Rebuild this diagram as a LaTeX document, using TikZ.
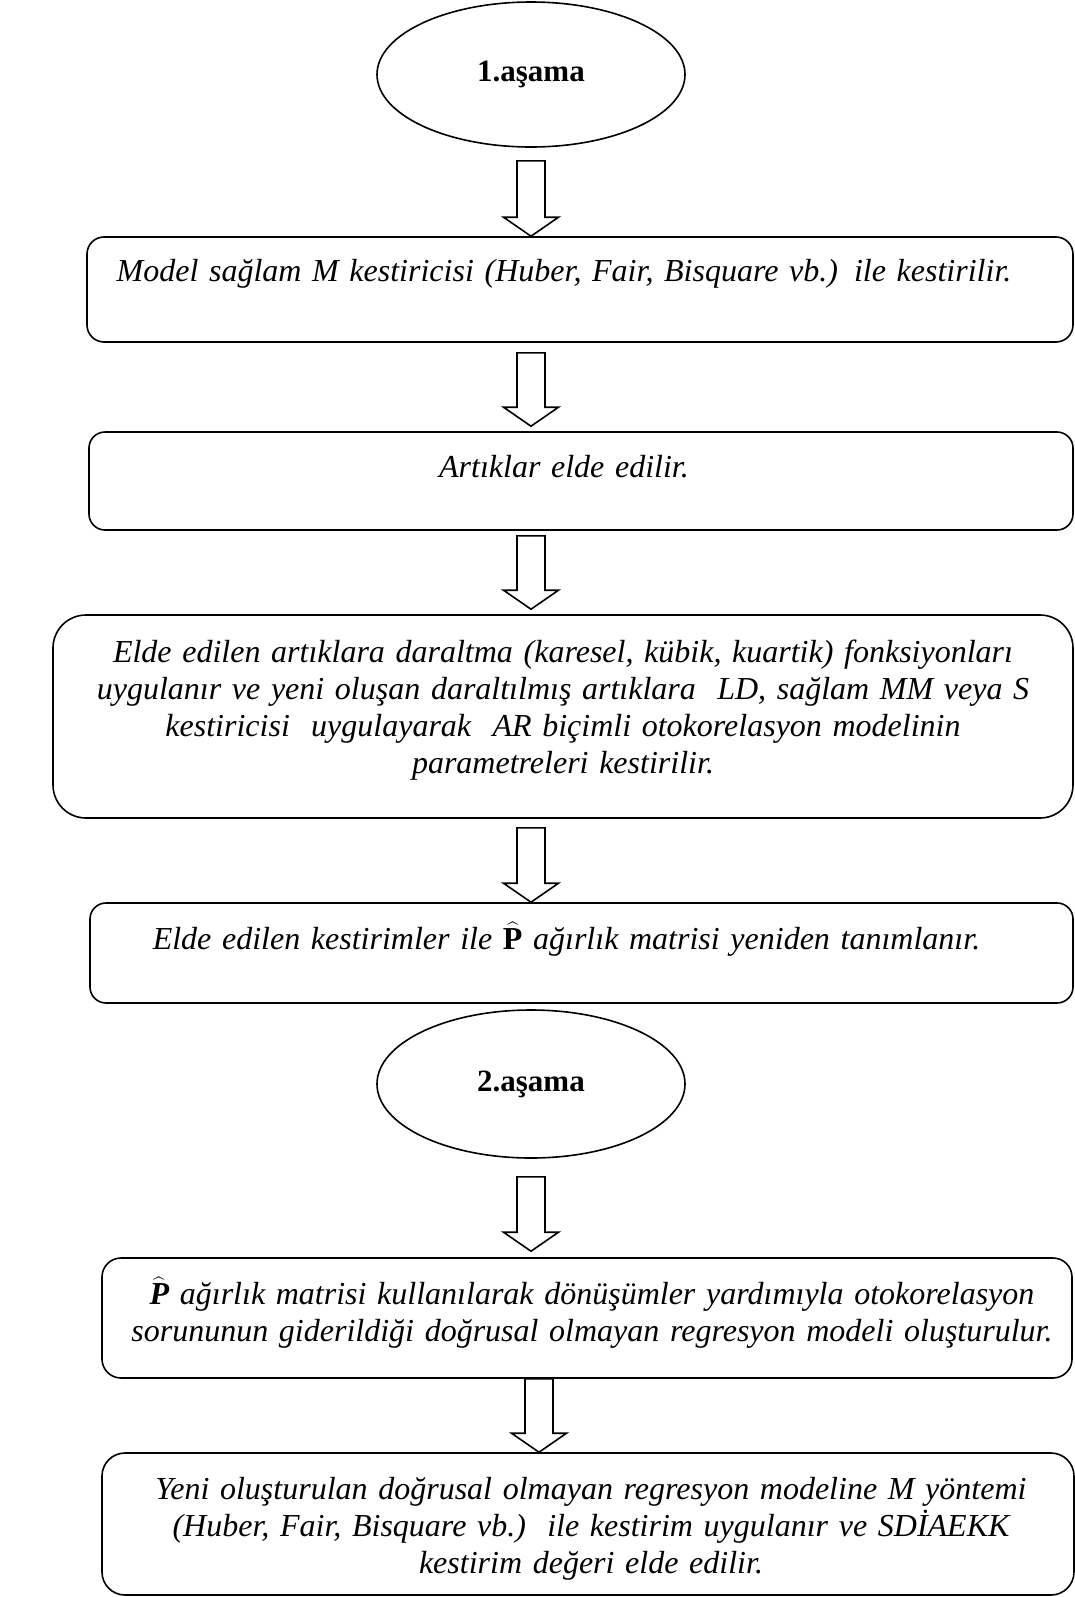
\documentclass[tikz,border=0pt]{standalone}
\usepackage{fontspec}
\setmainfont{Liberation Serif}
\definecolor{lineBlack}{HTML}{000000}
\usepackage{tikz}
\usetikzlibrary{calc, positioning, shapes.geometric}

\tikzset{
  stage/.style={ellipse, draw=lineBlack, line width=0.8pt, inner sep=0pt,
                minimum width=154pt, font=\fontsize{15.5}{18.5}\selectfont\bfseries},
  stepbox/.style={rectangle, draw=lineBlack, line width=0.8pt, inner sep=0pt},
  steptext/.style={anchor=base, align=center, inner sep=0pt, text width=490pt,
                   font=\fontsize{16}{18.5}\selectfont\itshape},
  hollow/.style={draw=lineBlack, line width=0.8pt, fill=white, line join=miter}
}

% hollow block arrow from top point #1 down to tip #2
\newcommand{\hollowarrow}[2]{%
  \draw[hollow] ($(#1)+(-14,0)$) -- ($(#2)+(-14,-19)$) -- ($(#2)+(-27.5,-19)$) -- (#2)
    -- ($(#2)+(27.5,-19)$) -- ($(#2)+(14,-19)$) -- ($(#1)+(14,0)$) -- cycle;}

\begin{document}
\begin{tikzpicture}[x=0.5pt, y=-0.5pt]
\useasboundingbox (0,0) rectangle (1075,1597);

% first stage
\node[stage, minimum height=72.5pt] (e1) at (531,74.5) {\raisebox{-1.5pt}{1.aşama}};

\node[stepbox, minimum width=493pt, minimum height=52.5pt, rounded corners=8.5pt] (b1) at (580,289.5) {};
\node[steptext] (t1) at ($(b1.north)+(-16,45)$)
  {Model sağlam M kestiricisi (Huber, Fair, Bisquare vb.) ile kestirilir.};

\node[stepbox, minimum width=492pt, minimum height=49pt, rounded corners=8pt] (b2) at (581,481) {};
\node[steptext] (t2) at ($(b2.north)+(-17,46)$) {Artıklar elde edilir.};

\node[stepbox, minimum width=510pt, minimum height=101.5pt, rounded corners=16.5pt] (b3) at (563,716.5) {};
\node[steptext] (t3) at ($(b3.north)+(0,48)$)
  {Elde edilen artıklara daraltma (karesel, kübik, kuartik) fonksiyonları\\
   uygulanır ve yeni oluşan daraltılmış artıklara\ \ LD, sağlam MM veya S\\
   kestiricisi\ \ uygulayarak\ \ AR biçimli otokorelasyon modelinin\\
   parametreleri kestirilir.};

\node[stepbox, minimum width=491.5pt, minimum height=50pt, rounded corners=8pt] (b4) at (581.5,953) {};
\node[steptext] (t4) at ($(b4.north)+(-15,47)$)
  {Elde edilen kestirimler ile $\widehat{\textbf{\upshape P}}$ ağırlık matrisi yeniden tanımlanır.};

% second stage
\node[stage, minimum height=74pt] (e2) at (531,1084) {2.aşama};

\node[stepbox, minimum width=485pt, minimum height=60pt, rounded corners=9.5pt] (b5) at (587,1318) {};
\node[steptext] (t5) at ($(b5.north)+(5,47)$)
  {$\widehat{\textbf{P}}$ ağırlık matrisi kullanılarak dönüşümler yardımıyla otokorelasyon\\
   sorununun giderildiği doğrusal olmayan regresyon modeli oluşturulur.};

\node[stepbox, minimum width=486pt, minimum height=71pt, rounded corners=11.5pt] (b6) at (588,1524) {};
\node[steptext] (t6) at ($(b6.north)+(3,47)$)
  {Yeni oluşturulan doğrusal olmayan regresyon modeline M yöntemi\\
   (Huber, Fair, Bisquare vb.)\ \ ile kestirim uygulanır ve SDİAEKK\\
   kestirim değeri elde edilir.};

% arrows
\coordinate (a1top) at ($(e1.south)+(0,13)$);
\coordinate (a1tip) at (e1 |- b1.north);
\coordinate (a2top) at ($(e1 |- b1.south)+(0,10)$);
\coordinate (a2tip) at ($(e1 |- b2.north)+(0,-5)$);
\coordinate (a3top) at ($(e1 |- b2.south)+(0,5)$);
\coordinate (a3tip) at ($(e1 |- b3.north)+(0,-5)$);
\coordinate (a4top) at ($(e1 |- b3.south)+(0,9)$);
\coordinate (a4tip) at (e1 |- b4.north);
\coordinate (a5top) at ($(e2.south)+(0,18)$);
\coordinate (a5tip) at ($(e2 |- b5.north)+(0,-6)$);
\coordinate (a6top) at ($(e2 |- b5.south)+(8,0)$);
\coordinate (a6tip) at ($(e2 |- b6.north)+(8,0)$);
\hollowarrow{a1top}{a1tip}
\hollowarrow{a2top}{a2tip}
\hollowarrow{a3top}{a3tip}
\hollowarrow{a4top}{a4tip}
\hollowarrow{a5top}{a5tip}
\hollowarrow{a6top}{a6tip}
\end{tikzpicture}
\end{document}
